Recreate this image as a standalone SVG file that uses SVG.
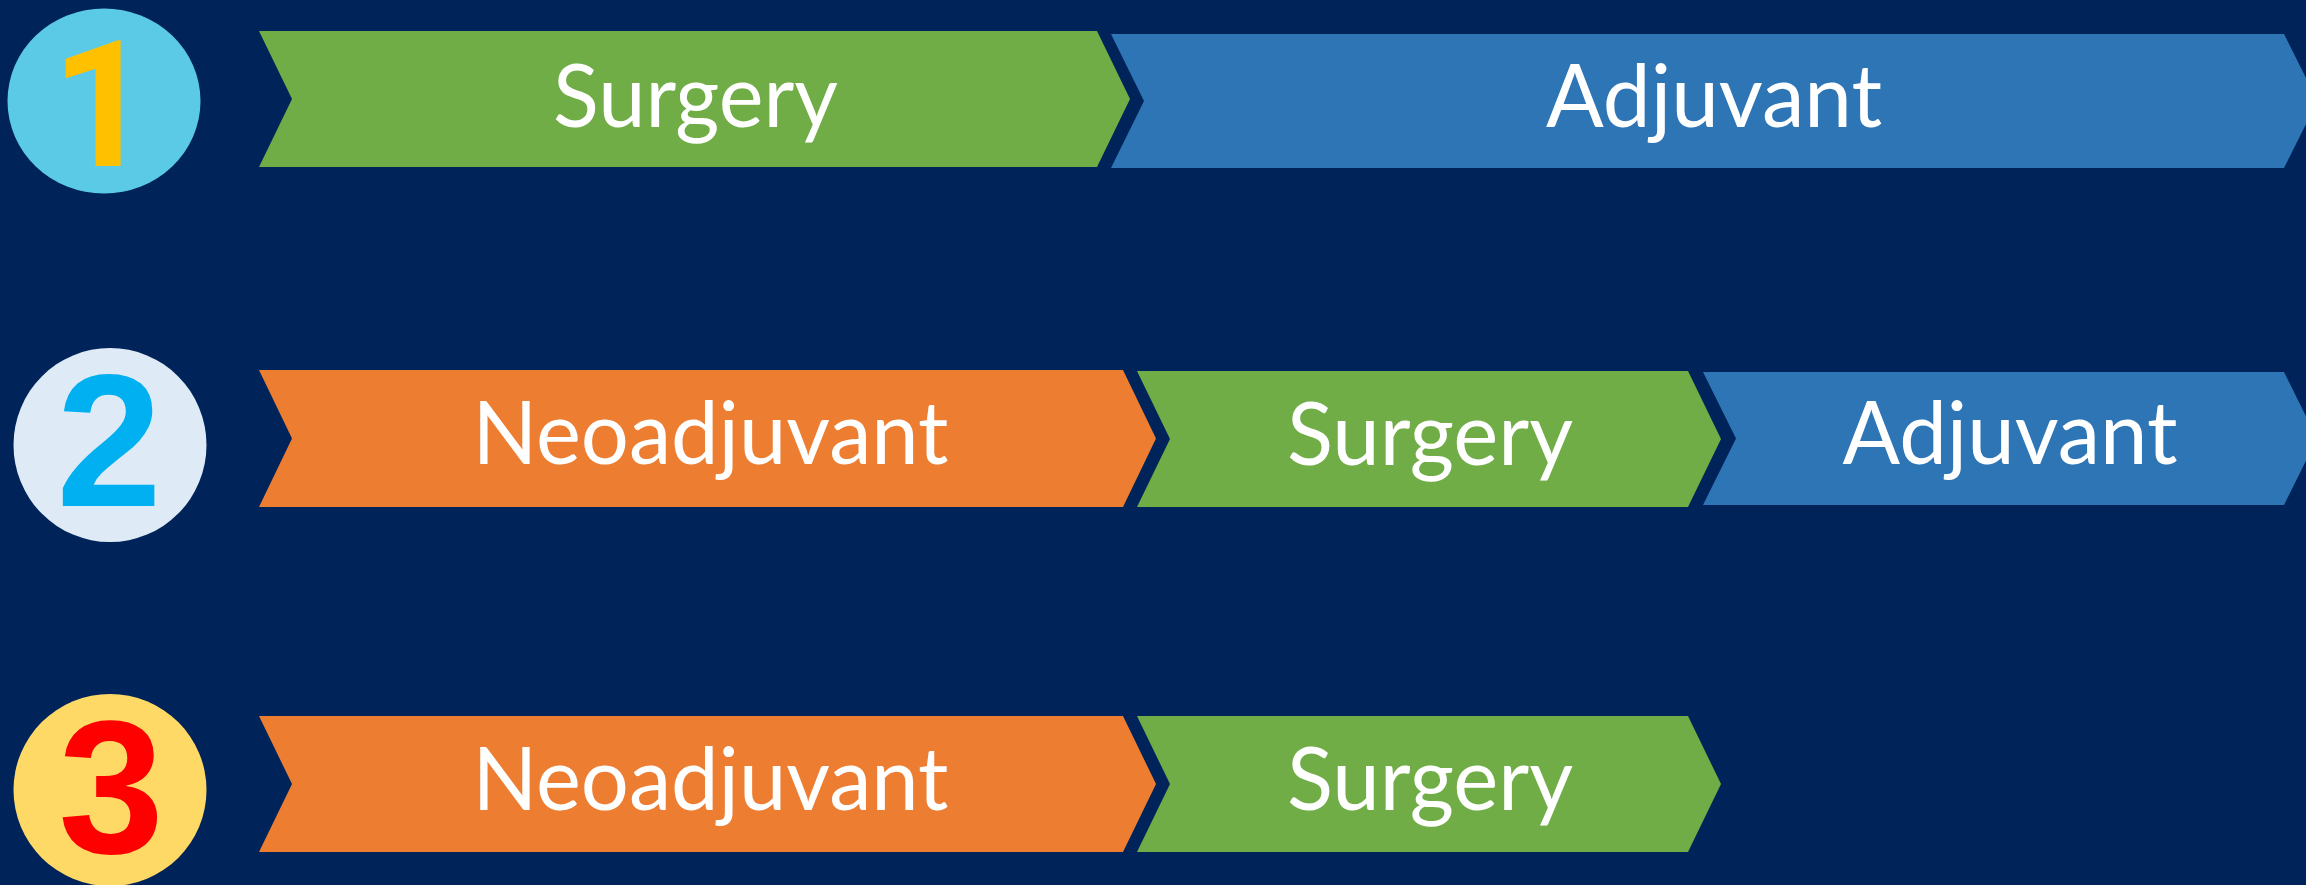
<svg xmlns="http://www.w3.org/2000/svg" width="2306" height="885" viewBox="0 0 2306 885">
<style>
.lbl{font-family:Lato,"Open Sans","Liberation Sans",sans-serif;font-size:88px;fill:#ffffff;text-anchor:middle}
.num{font-family:"Liberation Sans",Arimo,sans-serif;font-weight:700;text-anchor:middle}
.num1{font-family:Roboto,"Liberation Sans",sans-serif;font-weight:700;text-anchor:middle}
.green{fill:#70AD47}
.blue{fill:#2E75B6}
.orange{fill:#ED7D31}
</style>
<rect width="2306" height="885" fill="#002459"/>
<g id="badge1">
<ellipse cx="104" cy="101" rx="96.5" ry="92.5" fill="#5BCAE7"/>
<text class="num1" x="102" y="166" font-size="177" fill="#FFC000">1</text>
</g>
<g id="badge2">
<ellipse cx="110" cy="445" rx="96.5" ry="97" fill="#DEEBF7"/>
<text class="num" x="109" y="506" font-size="190" fill="#00B0F0">2</text>
</g>
<g id="badge3">
<ellipse cx="110" cy="790" rx="96.5" ry="96" fill="#FFD966"/>
<text class="num" x="111" y="853" font-size="190" fill="#FF0000">3</text>
</g>
<g id="r1-surgery">
<polygon class="green" points="259,31 1097,31 1130,99 1097,167 259,167 292,99"/>
<text class="lbl" x="695.5" y="127" textLength="285" lengthAdjust="spacingAndGlyphs">Surgery</text>
</g>
<g id="r1-adjuvant">
<polygon class="blue" points="1111,34 2284,34 2317.5,101 2284,168 1111,168 1144,101"/>
<text class="lbl" x="1714" y="127" textLength="336" lengthAdjust="spacingAndGlyphs">Adjuvant</text>
</g>
<g id="r2-neoadjuvant">
<polygon class="orange" points="259,370 1123,370 1156,438.5 1123,507 259,507 292,438.5"/>
<text class="lbl" x="710.5" y="464" textLength="476" lengthAdjust="spacingAndGlyphs">Neoadjuvant</text>
</g>
<g id="r2-surgery">
<polygon class="green" points="1137,371 1688,371 1721,439 1688,507 1137,507 1170,439"/>
<text class="lbl" x="1430" y="465" textLength="286" lengthAdjust="spacingAndGlyphs">Surgery</text>
</g>
<g id="r2-adjuvant">
<polygon class="blue" points="1703,372 2284,372 2317,438.5 2284,505 1703,505 1736,438.5"/>
<text class="lbl" x="2010" y="463.5" textLength="335" lengthAdjust="spacingAndGlyphs">Adjuvant</text>
</g>
<g id="r3-neoadjuvant">
<polygon class="orange" points="259,716 1123,716 1156,784 1123,852 259,852 292,784"/>
<text class="lbl" x="710.5" y="810" textLength="476" lengthAdjust="spacingAndGlyphs">Neoadjuvant</text>
</g>
<g id="r3-surgery">
<polygon class="green" points="1137,716 1688,716 1721,784 1688,852 1137,852 1170,784"/>
<text class="lbl" x="1430" y="810" textLength="286" lengthAdjust="spacingAndGlyphs">Surgery</text>
</g>
<g id="connectors"/>
</svg>
